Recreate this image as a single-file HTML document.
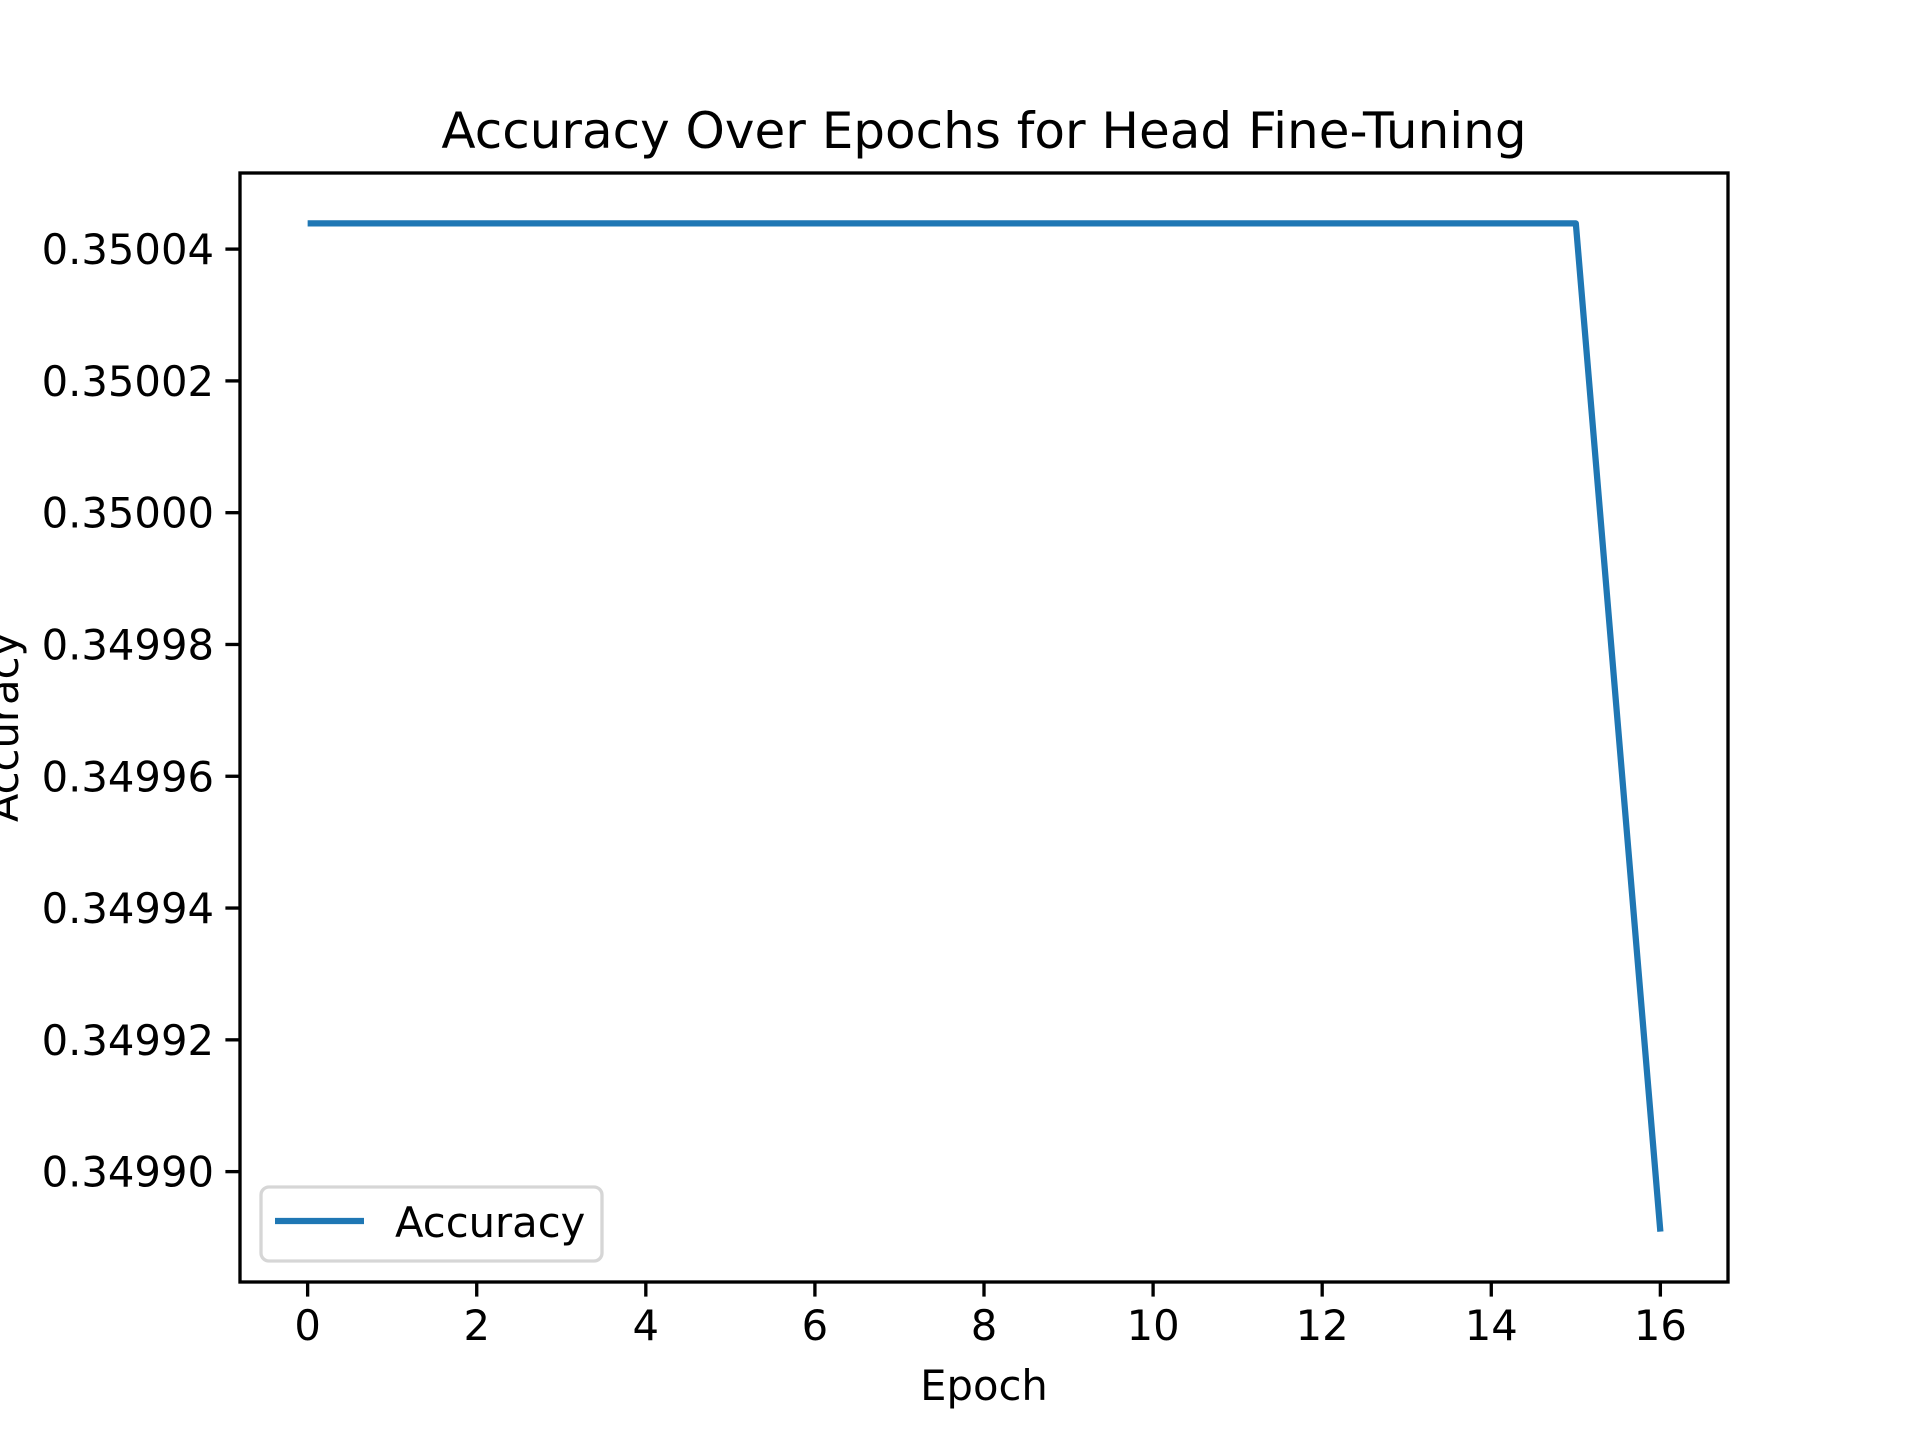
<!DOCTYPE html>
<html><head><meta charset="utf-8"><style>
html,body{margin:0;padding:0;background:#fff;}
svg{display:block;font-family:"DejaVu Sans","Liberation Sans",sans-serif;}
</style></head><body>
<svg id="chart" width="1920" height="1440" viewBox="0 0 1920 1440">
<rect width="1920" height="1440" fill="#fff"/>
<text x="984" y="148" font-size="50" text-anchor="middle" fill="#000">Accuracy Over Epochs for Head Fine-Tuning</text>
<g id="plot"></g>
<text x="984" y="1400" font-size="41.7" text-anchor="middle">Epoch</text>
<text transform="translate(18,727) rotate(-90)" font-size="41.7" text-anchor="middle">Accuracy</text>
</svg>
<script>
const epochs = [0,1,2,3,4,5,6,7,8,9,10,11,12,13,14,15,16];
const accuracy = [0.3500439,0.3500439,0.3500439,0.3500439,0.3500439,0.3500439,0.3500439,0.3500439,0.3500439,0.3500439,0.3500439,0.3500439,0.3500439,0.3500439,0.3500439,0.3500439,0.3498909];
const xTicks = [0,2,4,6,8,10,12,14,16];
const yTicks = [0.3499,0.34992,0.34994,0.34996,0.34998,0.35,0.35002,0.35004];
const yTickLabels = ["0.34990","0.34992","0.34994","0.34996","0.34998","0.35000","0.35002","0.35004"];

const L=240,R=1728,T=173,B=1282;
const NS="http://www.w3.org/2000/svg";
const g=document.getElementById('plot');
const xmin=Math.min(...epochs),xmax=Math.max(...epochs),xm=(xmax-xmin)*0.05;
const ymin=Math.min(...accuracy),ymax=Math.max(...accuracy),ym=(ymax-ymin)*0.05;
function sx(v){return L+(v-(xmin-xm))/((xmax+xm)-(xmin-xm))*(R-L);}
function sy(v){return B-(v-(ymin-ym))/((ymax+ym)-(ymin-ym))*(B-T);}
function mk(tag,attrs){const e=document.createElementNS(NS,tag);for(const k in attrs)e.setAttribute(k,attrs[k]);g.appendChild(e);return e;}

xTicks.forEach(v=>{
  const x=sx(v);
  const t=mk('line',{x1:x,x2:x,y1:B,y2:B+14.6,stroke:'#000','stroke-width':3.33});
  
  
  const l=mk('text',{x:x,y:1340,'font-size':41.7,'text-anchor':'middle'});
  l.textContent=v;
  
  
});
yTicks.forEach((v,i)=>{
  const y=sy(v);
  const t=mk('line',{x1:L-14.6,x2:L,y1:y,y2:y,stroke:'#000','stroke-width':3.33});
  
  
  const l=mk('text',{x:L-26,y:y+15,'font-size':41.7,'text-anchor':'end'});
  l.textContent=yTickLabels[i];
  
  
});
const pts=epochs.map((e,i)=>sx(e)+','+sy(accuracy[i])).join(' ');
const line=mk('polyline',{points:pts,fill:'none',stroke:'#1f77b4','stroke-width':6.25,'stroke-linejoin':'round','stroke-linecap':'butt'});


const frame=mk('rect',{x:L,y:T,width:R-L,height:B-T,fill:'none',stroke:'#000','stroke-width':3.33});


const lg=mk('rect',{x:261,y:1187,width:341,height:74,rx:8,fill:'#fff','fill-opacity':0.8,stroke:'#d6d6d6','stroke-width':3.33});


const lh=mk('line',{x1:275,x2:364,y1:1221,y2:1221,stroke:'#1f77b4','stroke-width':6.25});


const lt=mk('text',{x:395,y:1237,'font-size':41.7});
lt.textContent='Accuracy';


</script>
</body></html>
